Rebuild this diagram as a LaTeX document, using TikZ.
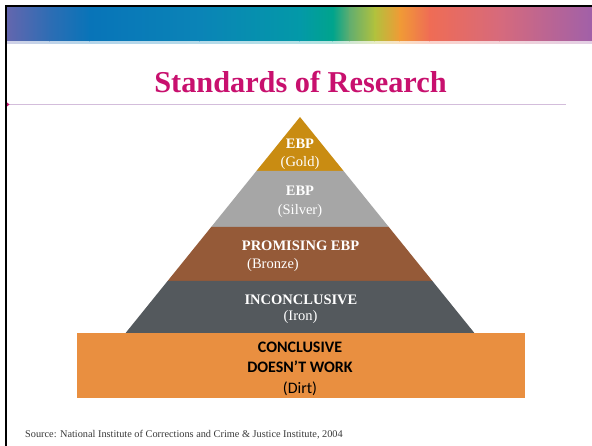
\documentclass[tikz,border=0pt]{standalone}
\usepackage{fontspec}
\setmainfont{Liberation Serif}
\newfontfamily\dirtfont{Carlito}
\usetikzlibrary{positioning}

\definecolor{titlepink}{HTML}{C8106E}
\definecolor{rulepurple}{HTML}{D3BDDB}
\definecolor{goldc}{HTML}{C98C12}
\definecolor{silverc}{HTML}{A6A6A6}
\definecolor{bronzec}{HTML}{955A38}
\definecolor{ironc}{HTML}{54595D}
\definecolor{dirtc}{HTML}{E98F40}
\definecolor{sourcec}{HTML}{3A3A3A}
% band colours, left to right
\definecolor{b1}{HTML}{6366AE}
\definecolor{b2}{HTML}{2D6DB4}
\definecolor{b3}{HTML}{0874B8}
\definecolor{b4}{HTML}{0A84B7}
\definecolor{b5}{HTML}{0399A8}
\definecolor{b6}{HTML}{00A48C}
\definecolor{b7}{HTML}{63AE6E}
\definecolor{b8}{HTML}{B2C13D}
\definecolor{b9}{HTML}{F09A36}
\definecolor{b10}{HTML}{EF6C55}
\definecolor{b11}{HTML}{D66A7C}
\definecolor{b12}{HTML}{A160A8}

\tikzset{
  layer head/.style={text=white,font=\bfseries\fontsize{14.5}{16}\selectfont,inner sep=0pt,anchor=base},
  layer sub/.style={text=white,font=\fontsize{14.5}{16}\selectfont,inner sep=0pt,anchor=base},
  dirt text/.style={text=black,font=\dirtfont\fontsize{16}{18}\selectfont,inner sep=0pt,anchor=base},
}

\begin{document}
\begin{tikzpicture}[x=1pt,y=-1pt]
    \useasboundingbox[fill=white] (0,0) rectangle (592,446);

    % colour band
    \foreach \xa/\xb/\ca/\cb in {7/50/b1/b2, 50/90/b2/b3, 90/200/b3/b4, 200/300/b4/b5,
        300/333/b5/b6, 333/350/b6/b7, 350/375/b7/b8, 375/400/b8/b9, 400/430/b9/b10,
        430/500/b10/b11, 500/592/b11/b12}
    {
        \shade[left color=\ca,right color=\cb] (\xa-0.3,7) rectangle (\xb+0.3,42);
        \shade[left color=\ca!30,right color=\cb!30] (\xa-0.3,42) rectangle (\xb+0.3,43.5);
    }
    \fill[black] (5,5) rectangle (7,446);
    \fill[black] (5,5) rectangle (592,7);

    % title
    \node[text=titlepink,font=\bfseries\fontsize{30.3}{36}\selectfont,inner sep=0pt,anchor=base]
        (title) at (300.5,93) {Standards of Research};
    \draw[rulepurple,line width=1.2pt] (7,104.5) -- (566,104.5);
    \fill[titlepink] (7,102.5) -- (9.5,104.5) -- (7,106.5) -- cycle;

    % pyramid
    \fill[goldc] (300,117) -- (343.6,171) -- (256.4,171) -- cycle;
    \fill[silverc] (256.4,171) -- (343.6,171) -- (388.8,227) -- (211.2,227) -- cycle;
    \fill[bronzec] (211.2,227) -- (388.8,227) -- (432.4,281) -- (167.6,281) -- cycle;
    \fill[ironc] (167.6,281) -- (432.4,281) -- (476,335) -- (124,335) -- cycle;
    \fill[dirtc] (77,333) rectangle (525,398);

    \node[layer head] (gold1) at (300,149) {EBP};
    \node[layer sub] (gold2) at (300,167) {(Gold)};
    \node[layer head] (silver1) at (300,196) {EBP};
    \node[layer sub] (silver2) at (300,215) {(Silver)};
    \node[layer head] (bronze1) at (300.5,251) {PROMISING EBP};
    \node[layer sub] (bronze2) at (273,269) {(Bronze)};
    \node[layer head] (iron1) at (301,305) {INCONCLUSIVE};
    \node[layer sub] (iron2) at (300.5,321) {(Iron)};
    \node[dirt text,font=\dirtfont\bfseries\fontsize{16}{18}\selectfont] (dirt1) at (300,353) {CONCLUSIVE};
    \node[dirt text,font=\dirtfont\bfseries\fontsize{16}{18}\selectfont] (dirt2) at (300,373) {DOESN’T WORK};
    \node[dirt text] (dirt3) at (300,393) {(Dirt)};

    % source line
    \node[text=sourcec,font=\fontsize{10.3}{12}\selectfont,inner sep=0pt,anchor=base west]
        (source) at (25,437) {Source: National Institute of Corrections and Crime \& Justice Institute, 2004};
\end{tikzpicture}
\end{document}
